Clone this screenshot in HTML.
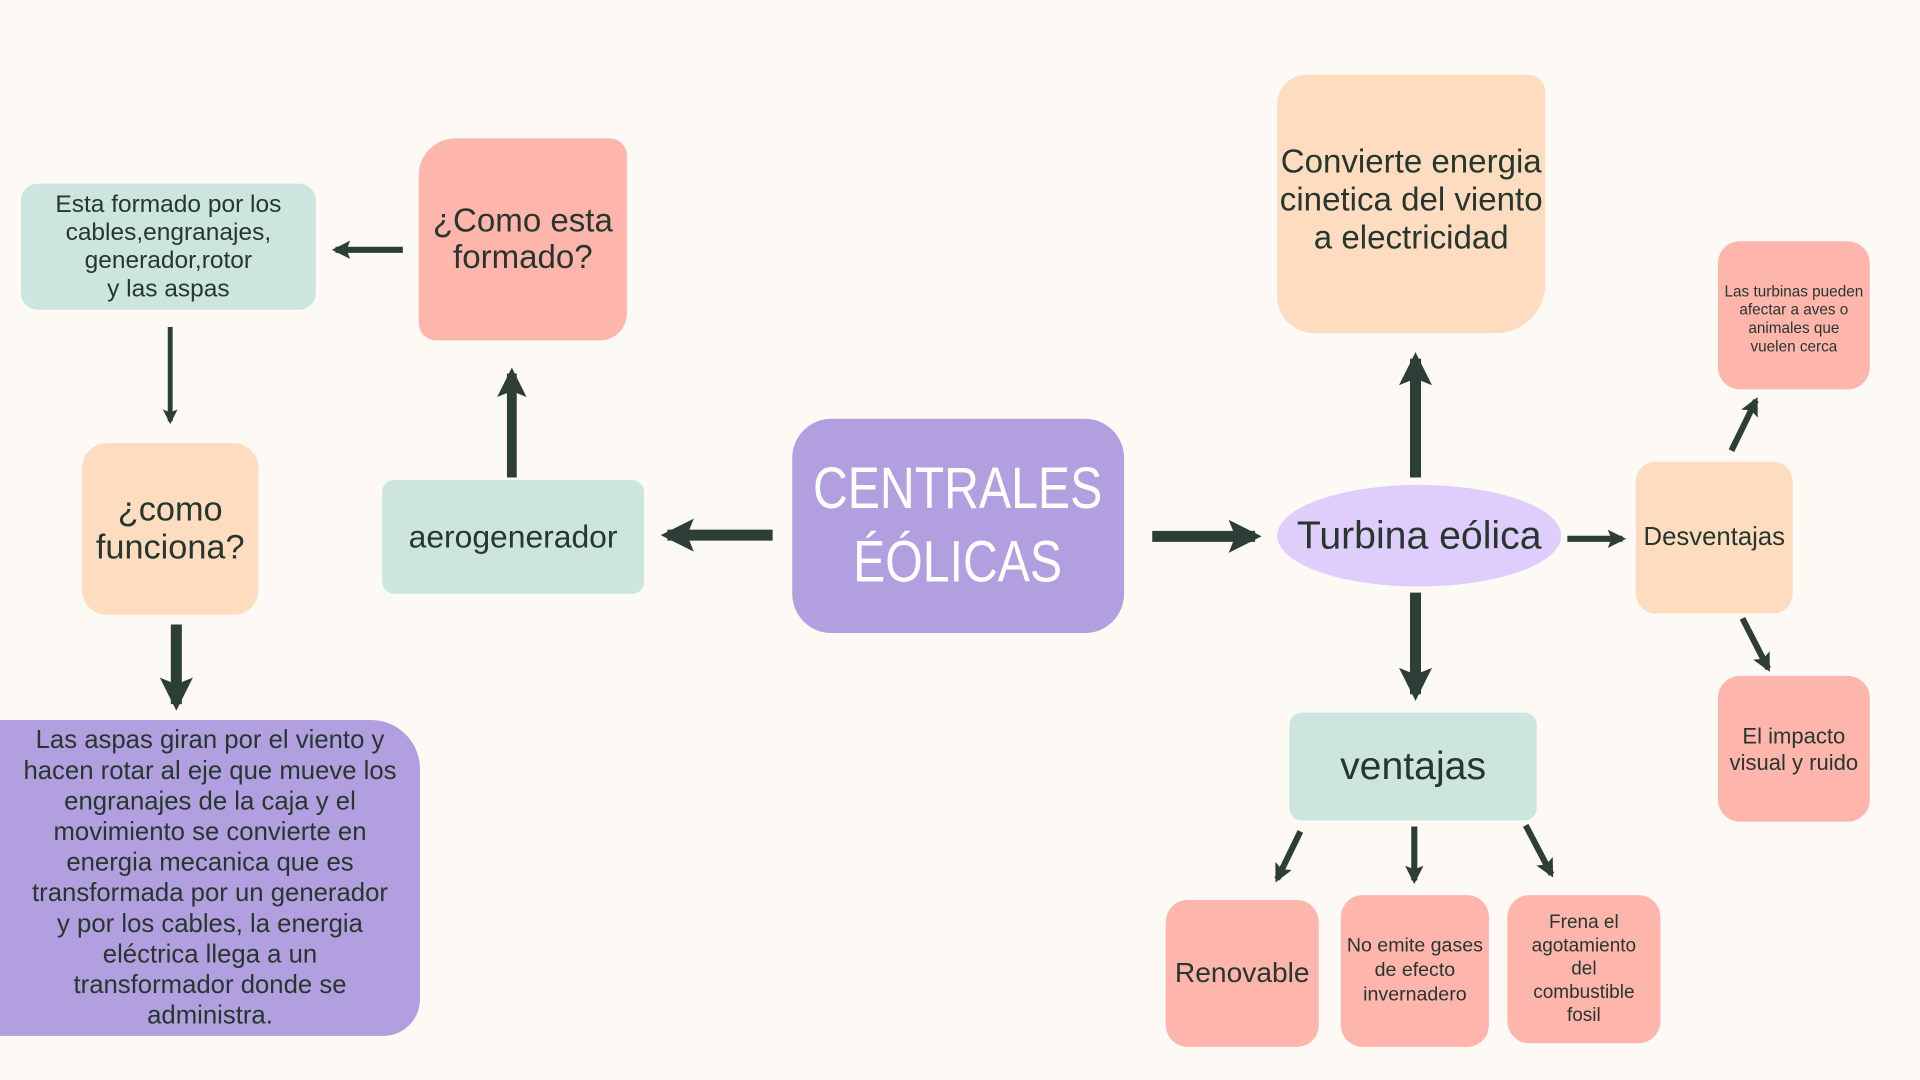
<!DOCTYPE html>
<html><head><meta charset="utf-8">
<style>
html,body{margin:0;padding:0;background:#fdf9f5;width:1920px;height:1080px;overflow:hidden}
#w{position:absolute;left:0;top:0;width:1568px;height:882px;transform:scale(1.22449);transform-origin:0 0}
.n{position:absolute;display:flex;align-items:center;justify-content:center;text-align:center;color:#27362f;font-family:"Liberation Sans",sans-serif;line-height:1.1;box-sizing:border-box}
.m{background:#cce6df}.p{background:#feb5ac}.o{background:#fddcbf}.v{background:#b19fdf}
svg{position:absolute;left:0;top:0}
</style></head><body><div id="w">
<svg width="1568" height="882">
<defs><marker id="a" viewBox="0 0 10 10" refX="8" refY="5" markerWidth="3" markerHeight="3" orient="auto"><path d="M0,0 L10,5 L0,10 L2,5z" fill="#2c3e35"/></marker></defs>
<g stroke="#2c3e35" fill="none" marker-end="url(#a)">
<line x1="631" y1="437" x2="545" y2="437" stroke-width="9"/>
<line x1="941" y1="438" x2="1025" y2="438" stroke-width="9"/>
<line x1="418" y1="390" x2="418" y2="305" stroke-width="8"/>
<line x1="329" y1="204" x2="274" y2="204" stroke-width="5"/>
<line x1="139" y1="267" x2="139" y2="344" stroke-width="4"/>
<line x1="144" y1="510" x2="144" y2="575" stroke-width="9"/>
<line x1="1156" y1="390" x2="1156" y2="293" stroke-width="9"/>
<line x1="1156" y1="484" x2="1156" y2="567" stroke-width="9"/>
<line x1="1280" y1="440" x2="1325" y2="440" stroke-width="5"/>
<line x1="1414" y1="368" x2="1434" y2="327" stroke-width="5"/>
<line x1="1423" y1="505" x2="1444" y2="546" stroke-width="5"/>
<line x1="1062" y1="679" x2="1043" y2="718" stroke-width="5"/>
<line x1="1155" y1="675" x2="1155" y2="719" stroke-width="5"/>
<line x1="1246" y1="674" x2="1267" y2="714" stroke-width="5"/>
</g></svg>
<div class="n v" style="left:647px;top:342px;width:271px;height:175px;border-radius:32px;color:#fff"><div style="font-size:48px;line-height:60px;transform:scaleX(0.82);white-space:nowrap">CENTRALES<br>ÉÓLICAS</div></div>
<div class="n m" style="left:312px;top:392px;width:214px;height:93px;border-radius:10px;font-size:26px">aerogenerador</div>
<div class="n p" style="left:342px;top:113px;width:170px;height:165px;border-radius:30px 14px 22px 14px;font-size:27px">¿Como esta<br>formado?</div>
<div class="n m" style="left:17px;top:150px;width:241px;height:103px;border-radius:14px;font-size:20px;line-height:23px">Esta formado por los<br>cables,engranajes,<br>generador,rotor<br>y las aspas</div>
<div class="n o" style="left:67px;top:362px;width:144px;height:140px;border-radius:20px;font-size:28px">¿como<br>funciona?</div>
<div class="n v" style="left:0;top:588px;width:343px;height:258px;border-radius:0 40px 30px 0;font-size:21px;line-height:25px">Las aspas giran por el viento y<br>hacen rotar al eje que mueve los<br>engranajes de la caja y el<br>movimiento se convierte en<br>energia mecanica que es<br>transformada por un generador<br>y por los cables, la energia<br>eléctrica llega a un<br>transformador donde se<br>administra.</div>
<div class="n o" style="left:1043px;top:61px;width:219px;height:211px;border-radius:24px 14px 40px 30px;font-size:27px;line-height:31px;align-items:flex-start;padding-top:56px">Convierte energia<br>cinetica del viento<br>a electricidad</div>
<div class="n" style="left:1043px;top:396px;width:232px;height:83px;border-radius:50%;background:#dfcdfc;font-size:32px">Turbina eólica</div>
<div class="n o" style="left:1336px;top:377px;width:128px;height:124px;border-radius:16px;font-size:21px">Desventajas</div>
<div class="n p" style="left:1403px;top:197px;width:124px;height:121px;border-radius:18px;font-size:12.5px;line-height:15px;align-items:flex-start;padding-top:34px">Las turbinas pueden<br>afectar a aves o<br>animales que<br>vuelen cerca</div>
<div class="n p" style="left:1403px;top:552px;width:124px;height:119px;border-radius:18px;font-size:18px;line-height:22px">El impacto<br>visual y ruido</div>
<div class="n m" style="left:1053px;top:582px;width:202px;height:88px;border-radius:10px;font-size:32px">ventajas</div>
<div class="n p" style="left:952px;top:735px;width:125px;height:120px;border-radius:18px;font-size:23px">Renovable</div>
<div class="n p" style="left:1095px;top:731px;width:121px;height:124px;border-radius:18px;font-size:16px;line-height:20px">No emite gases<br>de efecto<br>invernadero</div>
<div class="n p" style="left:1231px;top:731px;width:125px;height:121px;border-radius:18px;font-size:15.5px;line-height:19px">Frena el<br>agotamiento<br>del<br>combustible<br>fosil</div>
</div></body></html>
